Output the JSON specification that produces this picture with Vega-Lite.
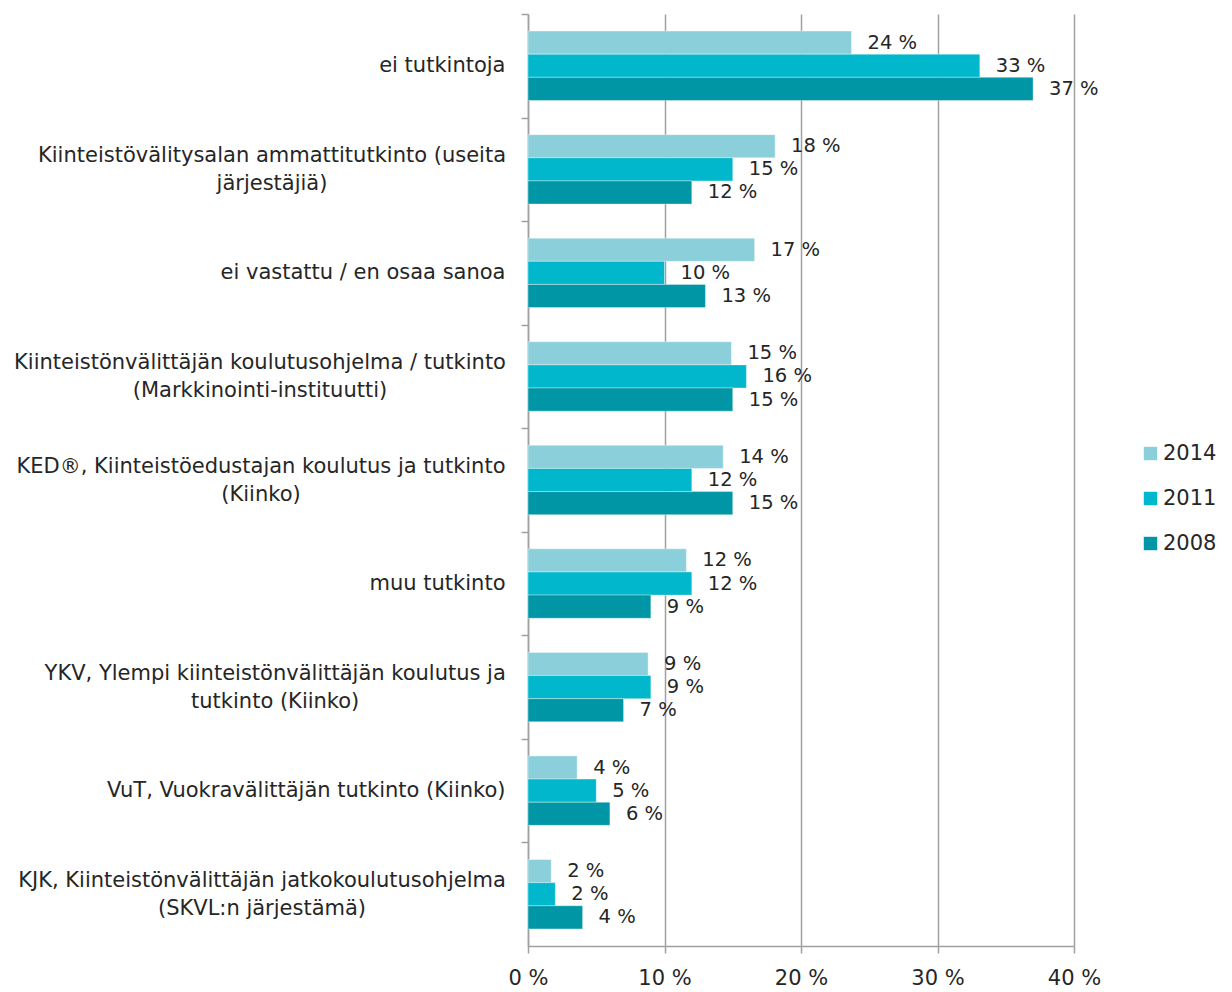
{
  "$schema": "https://vega.github.io/schema/vega-lite/v6.json",
  "autosize": {"type": "none"},
  "padding": {"left": 528, "top": 14, "right": 158, "bottom": 46},
  "width": 546,
  "height": 932,
  "background": "#ffffff",
  "config": {
    "font": "DejaVu Sans",
    "view": {"stroke": null},
    "axis": {"labelFont": "DejaVu Sans", "labelColor": "#262626"}
  },
  "data": {
    "values": [
      {"cat": "ei tutkintoja", "year": "2014", "value": 23.7, "label": "24 %"},
      {"cat": "ei tutkintoja", "year": "2011", "value": 33.1, "label": "33 %"},
      {"cat": "ei tutkintoja", "year": "2008", "value": 37.0, "label": "37 %"},
      {"cat": "Kiinteistövälitysalan ammattitutkinto (useita|järjestäjiä)", "year": "2014", "value": 18.1, "label": "18 %"},
      {"cat": "Kiinteistövälitysalan ammattitutkinto (useita|järjestäjiä)", "year": "2011", "value": 15.0, "label": "15 %"},
      {"cat": "Kiinteistövälitysalan ammattitutkinto (useita|järjestäjiä)", "year": "2008", "value": 12.0, "label": "12 %"},
      {"cat": "ei vastattu / en osaa sanoa", "year": "2014", "value": 16.6, "label": "17 %"},
      {"cat": "ei vastattu / en osaa sanoa", "year": "2011", "value": 10.0, "label": "10 %"},
      {"cat": "ei vastattu / en osaa sanoa", "year": "2008", "value": 13.0, "label": "13 %"},
      {"cat": "Kiinteistönvälittäjän koulutusohjelma / tutkinto|(Markkinointi-instituutti)", "year": "2014", "value": 14.9, "label": "15 %"},
      {"cat": "Kiinteistönvälittäjän koulutusohjelma / tutkinto|(Markkinointi-instituutti)", "year": "2011", "value": 16.0, "label": "16 %"},
      {"cat": "Kiinteistönvälittäjän koulutusohjelma / tutkinto|(Markkinointi-instituutti)", "year": "2008", "value": 15.0, "label": "15 %"},
      {"cat": "KED®, Kiinteistöedustajan koulutus ja tutkinto|(Kiinko)", "year": "2014", "value": 14.3, "label": "14 %"},
      {"cat": "KED®, Kiinteistöedustajan koulutus ja tutkinto|(Kiinko)", "year": "2011", "value": 12.0, "label": "12 %"},
      {"cat": "KED®, Kiinteistöedustajan koulutus ja tutkinto|(Kiinko)", "year": "2008", "value": 15.0, "label": "15 %"},
      {"cat": "muu tutkinto", "year": "2014", "value": 11.6, "label": "12 %"},
      {"cat": "muu tutkinto", "year": "2011", "value": 12.0, "label": "12 %"},
      {"cat": "muu tutkinto", "year": "2008", "value": 9.0, "label": "9 %"},
      {"cat": "YKV, Ylempi kiinteistönvälittäjän koulutus ja|tutkinto (Kiinko)", "year": "2014", "value": 8.8, "label": "9 %"},
      {"cat": "YKV, Ylempi kiinteistönvälittäjän koulutus ja|tutkinto (Kiinko)", "year": "2011", "value": 9.0, "label": "9 %"},
      {"cat": "YKV, Ylempi kiinteistönvälittäjän koulutus ja|tutkinto (Kiinko)", "year": "2008", "value": 7.0, "label": "7 %"},
      {"cat": "VuT, Vuokravälittäjän tutkinto (Kiinko)", "year": "2014", "value": 3.6, "label": "4 %"},
      {"cat": "VuT, Vuokravälittäjän tutkinto (Kiinko)", "year": "2011", "value": 5.0, "label": "5 %"},
      {"cat": "VuT, Vuokravälittäjän tutkinto (Kiinko)", "year": "2008", "value": 6.0, "label": "6 %"},
      {"cat": "KJK, Kiinteistönvälittäjän jatkokoulutusohjelma|(SKVL:n järjestämä)", "year": "2014", "value": 1.7, "label": "2 %"},
      {"cat": "KJK, Kiinteistönvälittäjän jatkokoulutusohjelma|(SKVL:n järjestämä)", "year": "2011", "value": 2.0, "label": "2 %"},
      {"cat": "KJK, Kiinteistönvälittäjän jatkokoulutusohjelma|(SKVL:n järjestämä)", "year": "2008", "value": 4.0, "label": "4 %"}
    ]
  },
  "encoding": {
    "y": {
      "field": "cat",
      "type": "nominal",
      "sort": null,
      "scale": {"paddingInner": 0.33, "paddingOuter": 0.165},
      "axis": {
        "title": null,
        "labelExpr": "split(datum.label, '|')",
        "labelFontSize": 21,
        "labelLineHeight": 28,
        "labelLimit": 600,
        "tickOffset": -51.8,
        "labelOffset": {"condition": {"test": "indexof(datum.value, '|') >= 0", "value": 37.8}, "value": 51.8},
        "labelAlign": {"condition": {"test": "indexof(datum.value, '|') >= 0", "value": "center"}, "value": "right"},
        "labelPadding": {
          "condition": [
            {"test": "indexof(datum.value, 'useita') >= 0", "value": 249.5},
            {"test": "indexof(datum.value, 'Markkinointi') >= 0", "value": 261.5},
            {"test": "indexof(datum.value, 'KED') >= 0", "value": 260.5},
            {"test": "indexof(datum.value, 'YKV') >= 0", "value": 246.3},
            {"test": "indexof(datum.value, 'KJK') >= 0", "value": 259.5}
          ],
          "value": 16
        },
        "tickSize": 7,
        "tickColor": "#A0A0A0",
        "tickWidth": 1.5,
        "domainColor": "#A0A0A0",
        "domainWidth": 1.5,
        "grid": false
      }
    },
    "yOffset": {"field": "year", "type": "nominal", "sort": ["2014", "2011", "2008"]},
    "x": {
      "field": "value",
      "type": "quantitative",
      "scale": {"domain": [0, 40], "nice": false},
      "axis": {
        "title": null,
        "values": [0, 10, 20, 30, 40],
        "labelExpr": "datum.value + ' %'",
        "labelFontSize": 21,
        "labelPadding": 14,
        "labelFlush": false,
        "tickSize": 7,
        "tickColor": "#A0A0A0",
        "tickWidth": 1.5,
        "domainColor": "#A0A0A0",
        "domainWidth": 1.5,
        "gridColor": "#A0A0A0",
        "gridWidth": 1.5
      }
    }
  },
  "layer": [
    {
      "mark": {"type": "bar", "stroke": "#ffffff", "strokeWidth": 0.6, "strokeOpacity": 0.6},
      "encoding": {
        "color": {
          "field": "year",
          "type": "nominal",
          "sort": ["2014", "2011", "2008"],
          "scale": {"domain": ["2014", "2011", "2008"], "range": ["#8BCFDB", "#00B7CB", "#0096A6"]},
          "legend": {
            "title": null,
            "orient": "none",
            "legendX": 612,
            "legendY": 429,
            "symbolType": "square",
            "symbolSize": 180,
            "symbolStrokeWidth": 0,
            "labelFontSize": 21,
            "labelColor": "#262626",
            "labelFont": "DejaVu Sans",
            "rowPadding": 23,
            "labelOffset": 2
          }
        }
      }
    },
    {
      "mark": {"type": "text", "align": "left", "baseline": "middle", "dx": 16, "fontSize": 19.5, "color": "#262626"},
      "encoding": {"text": {"field": "label"}}
    }
  ]
}
